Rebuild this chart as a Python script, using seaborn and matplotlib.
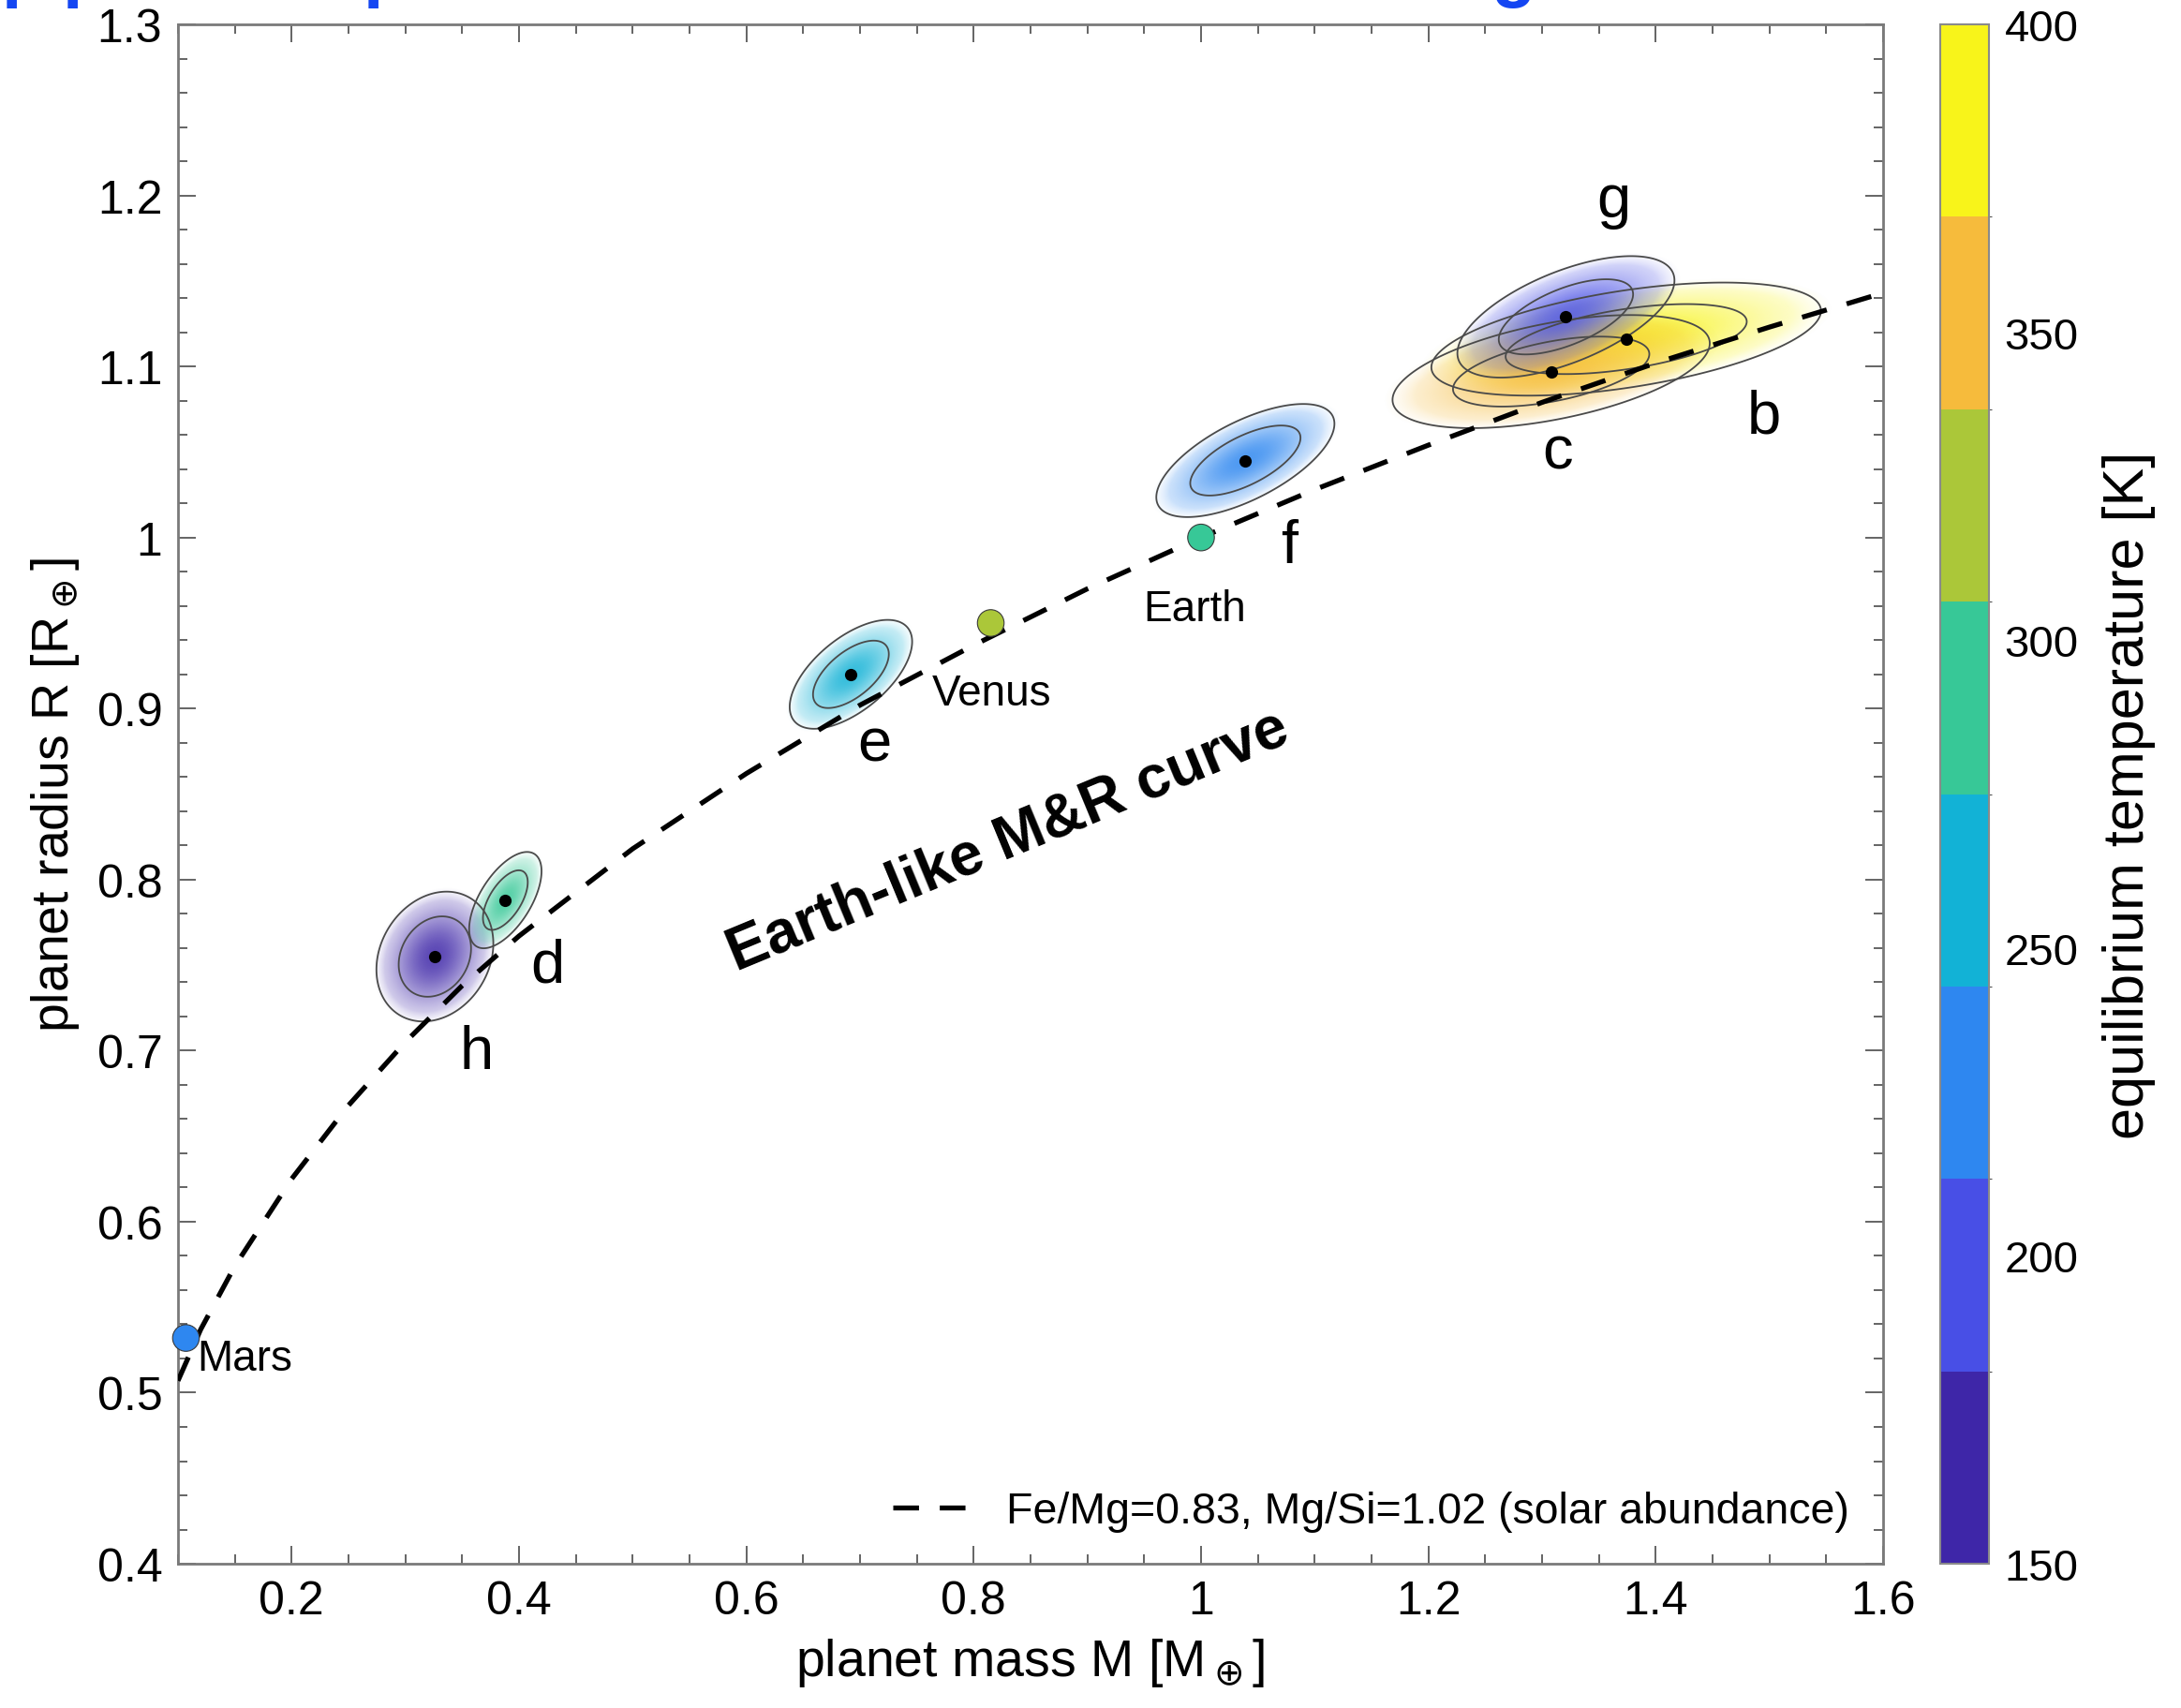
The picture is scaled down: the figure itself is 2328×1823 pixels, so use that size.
import numpy as np
import matplotlib
matplotlib.use("Agg")
import matplotlib.pyplot as plt
import matplotlib.colors as mcolors
from matplotlib.ticker import MultipleLocator
from matplotlib.lines import Line2D
import seaborn as sns

# TRAPPIST-1 planets, values
planet_names = ["b", "c", "d", "e", "f", "g", "h"]
planet_mass = [1.374, 1.308, 0.388, 0.692, 1.039, 1.321, 0.326]
planet_radius = [1.116, 1.097, 0.788, 0.920, 1.045, 1.129, 0.755]
mass_err = [0.070, 0.057, 0.013, 0.022, 0.032, 0.039, 0.021]
radius_err = [0.0135, 0.0135, 0.0115, 0.013, 0.0135, 0.0145, 0.0155]
mr_corr = [0.5, 0.5, 0.6, 0.6, 0.65, 0.6, 0.2]
planet_teq = [398, 350, 286, 251, 219, 198, 173]

# solar system reference planets
solar_names = ["Mars", "Venus", "Earth"]
solar_mass = [0.107, 0.815, 1.0]
solar_radius = [0.532, 0.950, 1.0]
solar_teq = [226, 330, 290]

# Earth-like mass-radius curve
curve_mass = [0.10, 0.12, 0.15, 0.20, 0.25, 0.30, 0.35, 0.40, 0.50, 0.60,
              0.70, 0.80, 0.90, 1.00, 1.10, 1.20, 1.30, 1.40, 1.50, 1.60]
curve_radius = [0.507, 0.537, 0.574, 0.625, 0.668, 0.705, 0.738, 0.767, 0.818, 0.862,
                0.902, 0.937, 0.970, 1.000, 1.028, 1.054, 1.079, 1.102, 1.123, 1.143]

cbar_ticks = [150, 200, 250, 300, 350, 400]
parula8 = ["#3e26a8", "#484fe6", "#2e87f0", "#12b2d6", "#37c897", "#abc739",
           "#f6bb3c", "#f8f41a"]

sns.set_style("ticks")
plt.rcParams["font.family"] = ["Liberation Sans", "DejaVu Sans"]
plt.rcParams["mathtext.fontset"] = "dejavusans"
plt.rcParams["text.color"] = "black"
plt.rcParams["axes.labelcolor"] = "black"

cmap = mcolors.ListedColormap(parula8)
norm = mcolors.BoundaryNorm(np.linspace(150, 400, 9), cmap.N)

fig = plt.figure(figsize=(23.28, 18.24), dpi=100)
ax = fig.add_axes([0.0816, 0.0844, 0.7818, 0.9008])


def draw_posterior(ax, m, r, sm, sr, rho, color):
    mm = np.linspace(m - 4 * sm, m + 4 * sm, 300)
    rr = np.linspace(r - 4 * sr, r + 4 * sr, 300)
    M, R = np.meshgrid(mm, rr)
    u = (M - m) / sm
    v = (R - r) / sr
    d2 = (u * u - 2 * rho * u * v + v * v) / (1 - rho ** 2)
    d = np.sqrt(d2)
    rgba = np.zeros(M.shape + (4,))
    rgba[..., :3] = mcolors.to_rgb(color)
    # shading fades out at the outer (95%) contour
    rgba[..., 3] = 0.85 * np.exp(-d2 / 3.6) * np.clip((2.6 - d) / 0.5, 0, 1)
    ax.imshow(rgba, extent=(mm[0], mm[-1], rr[0], rr[-1]), origin="lower",
              aspect="auto", interpolation="bilinear", zorder=1)
    ax.contour(M, R, d, levels=[1.515, 2.448], colors="#4a4a4a",
               linewidths=1.3, zorder=2)


order = [6, 2, 3, 4, 0, 1, 5]  # h d e f b c g
for i in order:
    draw_posterior(ax, planet_mass[i], planet_radius[i], mass_err[i], radius_err[i],
                   mr_corr[i], cmap(norm(planet_teq[i])))

dash = (0, (5.2, 4.2))
sns.lineplot(x=curve_mass, y=curve_radius, sort=False, ax=ax, color="black",
             linewidth=3.8, linestyle=dash, zorder=3)

sns.scatterplot(x=solar_mass, y=solar_radius, hue=solar_teq, palette=cmap, hue_norm=norm,
                s=420, edgecolor="#3a3a3a", linewidth=0.8, legend=False, ax=ax, zorder=4,
                clip_on=False)
sns.scatterplot(x=planet_mass, y=planet_radius, color="black", s=90, linewidth=0,
                legend=False, ax=ax, zorder=5)

# labels
letter_pos = {"b": (1.495, 1.071), "c": (1.314, 1.050), "d": (0.425, 0.750),
              "e": (0.713, 0.879), "f": (1.078, 0.995), "g": (1.363, 1.197),
              "h": (0.363, 0.699)}
for name in planet_names:
    x, y = letter_pos[name]
    ax.text(x, y, name, fontsize=47, ha="center", va="center", zorder=6)

solar_pos = {"Mars": (0.117, 0.520), "Venus": (0.763, 0.909), "Earth": (0.949, 0.958)}
for name in solar_names:
    x, y = solar_pos[name]
    ax.text(x, y, name, fontsize=33, ha="left", va="center", zorder=6)

ax.text(0.830, 0.823, "Earth-like M&R curve", fontsize=46, fontweight="bold",
        rotation=22.5, ha="center", va="center", rotation_mode="anchor", zorder=6)

ax.set_xlim(0.1, 1.6)
ax.set_ylim(0.4, 1.3)
ax.xaxis.set_minor_locator(MultipleLocator(0.05))
ax.yaxis.set_minor_locator(MultipleLocator(0.02))
ax.set_xticks([0.2, 0.4, 0.6, 0.8, 1.0, 1.2, 1.4, 1.6])
ax.set_xticklabels(["0.2", "0.4", "0.6", "0.8", "1", "1.2", "1.4", "1.6"])
ax.set_yticks([0.4, 0.5, 0.6, 0.7, 0.8, 0.9, 1.0, 1.1, 1.2, 1.3])
ax.set_yticklabels(["0.4", "0.5", "0.6", "0.7", "0.8", "0.9", "1", "1.1", "1.2", "1.3"])
ax.tick_params(which="both", direction="in", top=True, right=True, color="#4a4a4a",
               labelcolor="black", labelsize=36, width=1.2)
ax.tick_params(which="major", length=14, pad=12)
ax.tick_params(which="minor", length=7)
for sp in ax.spines.values():
    sp.set_visible(True)
    sp.set_color("#7a7a7a")
    sp.set_linewidth(2.0)

ax.set_xlabel(r"planet mass M [M$_\oplus$]", fontsize=40, labelpad=10)
ax.set_ylabel(r"planet radius R [R$_\oplus$]", fontsize=40, labelpad=12)

handle = Line2D([], [], color="black", linewidth=3.8, linestyle=dash)
ax.legend([handle], ["Fe/Mg=0.83, Mg/Si=1.02 (solar abundance)"], loc="lower right",
          bbox_to_anchor=(1.003, -0.005), frameon=False, fontsize=33.5, handlelength=1.9,
          handletextpad=0.7)

# colorbar
cax = fig.add_axes([0.8896, 0.0844, 0.0223, 0.9008])
sm = plt.cm.ScalarMappable(cmap=cmap, norm=norm)
cb = fig.colorbar(sm, cax=cax, ticks=cbar_ticks)
cb.ax.tick_params(direction="in", length=12, width=1.2, color="#333333",
                  labelcolor="black", labelsize=34, pad=12)
cb.outline.set_edgecolor("#8a8a8a")
cb.outline.set_linewidth(1.5)
cb.set_label("equilibrium temperature [K]", fontsize=44, labelpad=18)

# cut-off slide title above the figure
for xf, ch in [(0.011, "p"), (0.039, "p"), (0.177, "p"), (0.694, "g")]:
    fig.text(xf, 1.0 + 0.004, ch, fontsize=56, fontweight="bold", color="#1446f2",
             ha="center", va="baseline")

fig.savefig("out.png", dpi=100, facecolor="white")
